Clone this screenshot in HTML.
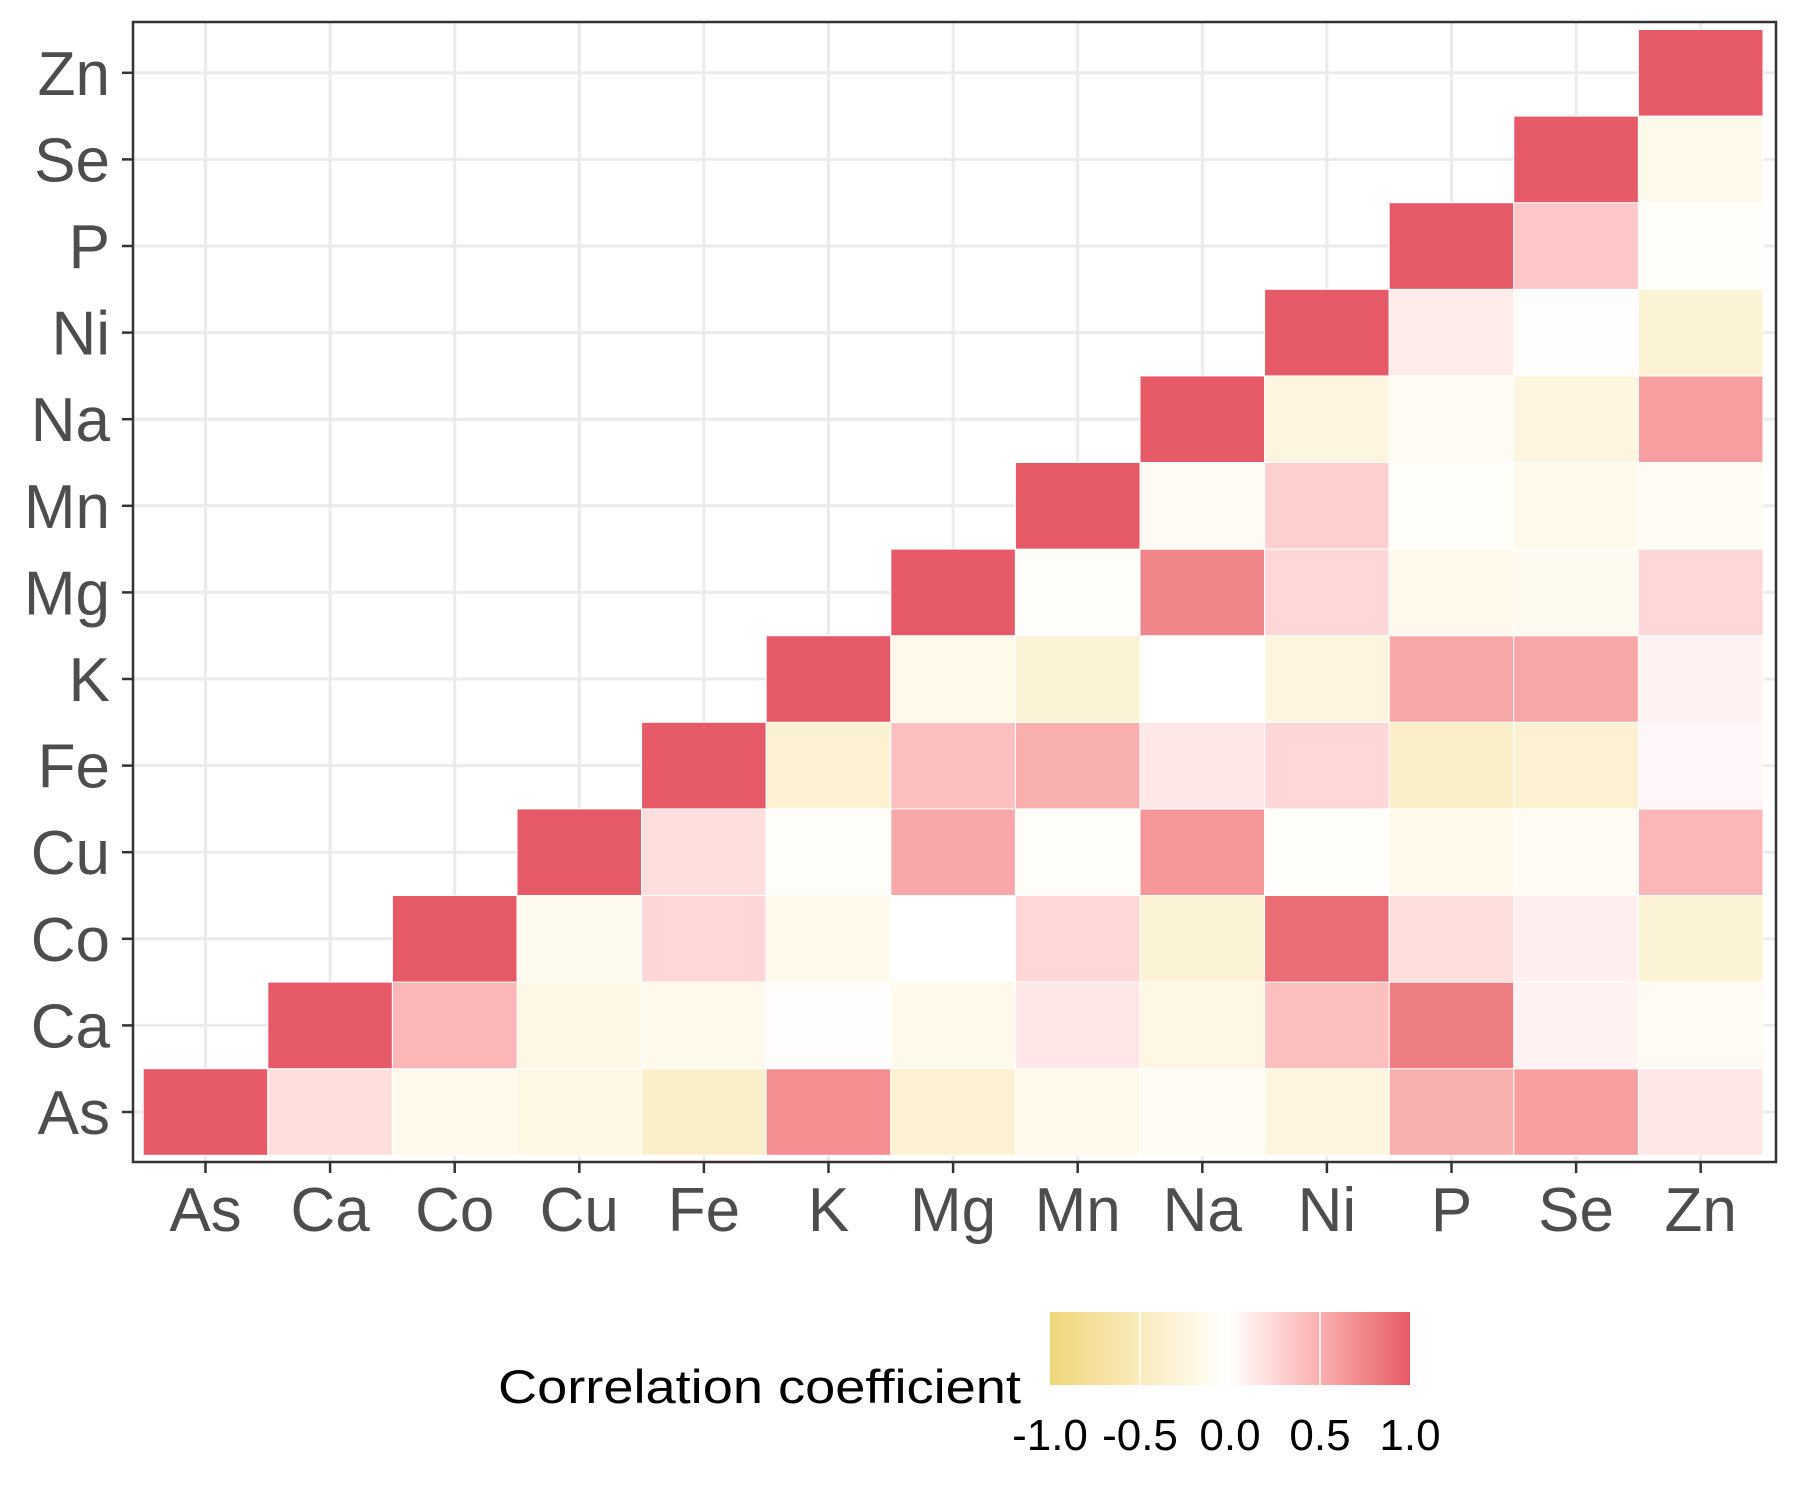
<!DOCTYPE html>
<html><head><meta charset="utf-8"><style>
html,body{margin:0;padding:0;background:#fff}
svg{display:block;font-family:"Liberation Sans",Arial,sans-serif}
</style></head><body>
<svg id="chart" width="1800" height="1500" viewBox="0 0 1800 1500" xmlns="http://www.w3.org/2000/svg">
<rect width="1800" height="1500" fill="#fff"/>
<g id="grid"></g>
<g id="tiles"></g>
<rect x="133" y="22" width="1643" height="1140" fill="none" stroke="#333" stroke-width="2.5"/>
<g id="axes"></g>
<g id="legend"></g>
</svg>
<script>
const labels = ["As","Ca","Co","Cu","Fe","K","Mg","Mn","Na","Ni","P","Se","Zn"];
const rowAs = [1,0.2,-0.15,-0.2,-0.4,0.7,-0.35,-0.15,-0.1,-0.25,0.5,0.6,0.15];
const rowCa = [1,0.45,-0.2,-0.15,0.02,-0.15,0.15,-0.2,0.4,0.8,0.08,-0.1];
const rowCo = [1,-0.12,0.25,-0.15,0.0,0.25,-0.3,0.9,0.2,0.1,-0.3];
const rowCu = [1,0.2,-0.05,0.55,-0.05,0.65,-0.03,-0.15,-0.1,0.45];
const rowFe = [1,-0.35,0.4,0.5,0.15,0.25,-0.4,-0.35,0.05];
const rowK  = [1,-0.15,-0.3,0.0,-0.25,0.55,0.55,0.08];
const rowMg = [1,-0.03,0.75,0.25,-0.15,-0.12,0.25];
const rowMn = [1,-0.1,0.3,-0.05,-0.15,-0.1];
const rowNa = [1,-0.25,-0.1,-0.25,0.6];
const rowNi = [1,0.12,0.02,-0.3];
const rowP  = [1,0.35,-0.05];
const rowSe = [1,-0.15];
const rowZn = [1];
const rows = [rowAs,rowCa,rowCo,rowCu,rowFe,rowK,rowMg,rowMn,rowNa,rowNi,rowP,rowSe,rowZn];
const legendTicks = [-1.0,-0.5,0.0,0.5,1.0];
const legendTickLabels = ["-1.0","-0.5","0.0","0.5","1.0"];

const NS="http://www.w3.org/2000/svg";
const step=124.6, x0=205.5, ystep=86.6, y0=1112;
function xs(i){return x0+i*step;}
function ys(j){return y0-j*ystep;}
// Lab interpolation
function s2l(c){c/=255;return c<=0.04045?c/12.92:Math.pow((c+0.055)/1.055,2.4);}
function l2s(c){c=c<=0.0031308?12.92*c:1.055*Math.pow(c,1/2.4)-0.055;return Math.max(0,Math.min(255,Math.round(c*255)));}
function toLab(rgb){const[r,g,b]=rgb.map(s2l);let X=(0.4124*r+0.3576*g+0.1805*b)/0.95047,Y=0.2126*r+0.7152*g+0.0722*b,Z=(0.0193*r+0.1192*g+0.9505*b)/1.08883;
 const f=t=>t>0.008856?Math.cbrt(t):7.787*t+16/116;const fx=f(X),fy=f(Y),fz=f(Z);return[116*fy-16,500*(fx-fy),200*(fy-fz)];}
function fromLab(lab){const fy=(lab[0]+16)/116,fx=fy+lab[1]/500,fz=fy-lab[2]/200;const fi=t=>t**3>0.008856?t**3:(t-16/116)/7.787;
 const X=fi(fx)*0.95047,Y=fi(fy),Z=fi(fz)*1.08883;const r=3.2406*X-1.5372*Y-0.4986*Z,g=-0.9689*X+1.8758*Y+0.0415*Z,b=0.0557*X-0.2040*Y+1.0570*Z;return[l2s(r),l2s(g),l2s(b)];}
const low=toLab([238,215,123]), mid=toLab([255,255,255]), high=toLab([229,90,102]);
function color(v){
  const a = v<0?low:high, t=Math.min(1,Math.abs(v));
  const c=fromLab([0,1,2].map(k=>mid[k]+(a[k]-mid[k])*t));
  return `rgb(${c[0]},${c[1]},${c[2]})`;
}
function mk(tag,attrs,parent){const e=document.createElementNS(NS,tag);for(const k in attrs)e.setAttribute(k,attrs[k]);parent.appendChild(e);return e;}
const grid=document.getElementById('grid'), tiles=document.getElementById('tiles'), axes=document.getElementById('axes'), legend=document.getElementById('legend');
labels.forEach((l,i)=>{
  const gv=mk('line',{x1:xs(i),x2:xs(i),y1:22,y2:1162,stroke:'#EBEBEB','stroke-width':3},grid);
  
  
  const gh=mk('line',{x1:133,x2:1776,y1:ys(i),y2:ys(i),stroke:'#EBEBEB','stroke-width':3},grid);
  
  
  const tx=mk('line',{x1:xs(i),x2:xs(i),y1:1162,y2:1173,stroke:'#333','stroke-width':2.5},axes);
  
  
  const ty=mk('line',{x1:122,x2:133,y1:ys(i),y2:ys(i),stroke:'#333','stroke-width':2.5},axes);
  
  
  const lx=mk('text',{x:xs(i),y:1231,'text-anchor':'middle','font-size':62,fill:'#4D4D4D'},axes);
  lx.textContent=l;
  
  
  const ly=mk('text',{x:110,y:ys(i)+22,'text-anchor':'end','font-size':62,fill:'#4D4D4D'},axes);
  ly.textContent=l;
  
  
});
rows.forEach((r,j)=>{
  r.forEach((v,k)=>{
    const i=j+k;
    const t=mk('rect',{x:xs(i)-step/2,y:ys(j)-ystep/2,width:step,height:ystep,fill:color(v),stroke:'#fff','stroke-width':1},tiles);
    
    
  });
});
const lx0=1050, lx1=1410, ly0=1312, ly1=1385;
function lscale(v){return lx0+(v+1)/2*(lx1-lx0);}
const defs=mk('defs',{},legend);
const grad=mk('linearGradient',{id:'lg',x1:0,x2:1,y1:0,y2:0},defs);
for(let s=0;s<=20;s++){const v=-1+s/10;mk('stop',{offset:(s/20),'stop-color':color(v)},grad);}
const bar=mk('rect',{x:lx0,y:ly0,width:lx1-lx0,height:ly1-ly0,fill:'url(#lg)'},legend);


legendTicks.forEach((v,i)=>{
  if(i>0&&i<legendTicks.length-1){
    const tk=mk('line',{x1:lscale(v),x2:lscale(v),y1:ly0,y2:ly1,stroke:'#fff','stroke-width':1.5},legend);
    
    
  }
  const t=mk('text',{x:lscale(v),y:1450,'text-anchor':'middle','font-size':44,fill:'#000'},legend);
  t.textContent=legendTickLabels[i];
  
  
});
const title=mk('text',{x:498,y:1403,'font-size':47,fill:'#000',textLength:523,lengthAdjust:'spacingAndGlyphs'},legend);
title.textContent='Correlation coefficient';


</script>
</body></html>
